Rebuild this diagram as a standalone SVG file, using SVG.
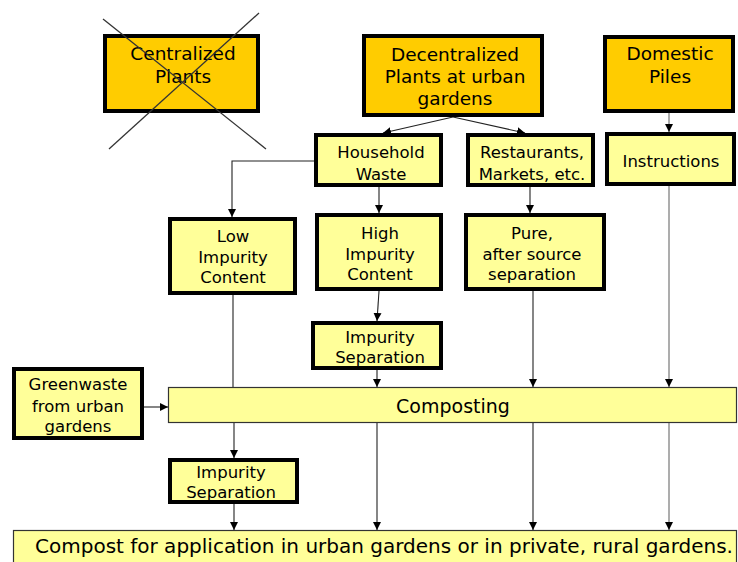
<svg xmlns="http://www.w3.org/2000/svg" width="738" height="562" viewBox="0 0 738 562">
  <defs>
    <marker id="arr" viewBox="0 0 8 8" refX="8" refY="4" markerWidth="8" markerHeight="8" markerUnits="userSpaceOnUse" orient="auto">
      <path d="M0,0 L8,4 L0,8 Z" fill="#000"/>
    </marker>
  </defs>
  <style>
    text { font-family: "Comic Sans MS", "DejaVu Sans", sans-serif; fill: #000; text-anchor: middle; }
    .main { fill: #FFCC00; stroke: #000; stroke-width: 4; }
    .sub { fill: #FFFF99; stroke: #000; stroke-width: 4; }
    .bar { fill: #FFFF99; stroke: #333; stroke-width: 1.2; }
    .t17 { font-size: 18.5px; }
    .t15 { font-size: 16.5px; }
    .c { fill: none; stroke: #222; stroke-width: 1.1; }
    .g { fill: none; stroke: #999; stroke-width: 1.6; }
    .x { stroke: #333; stroke-width: 1.3; }
  </style>

  <!-- connectors -->
  <g id="connectors">
    <line class="c" x1="453" y1="117" x2="383" y2="133" marker-end="url(#arr)"/>
    <line class="c" x1="453" y1="117" x2="525" y2="133" marker-end="url(#arr)"/>
    <line class="g" x1="669" y1="113" x2="669" y2="132" marker-end="url(#arr)"/>
    <polyline class="c" points="314,161 232,161 232,217" marker-end="url(#arr)"/>
    <line class="c" x1="379" y1="187" x2="379" y2="213" marker-end="url(#arr)"/>
    <line class="c" x1="530" y1="187" x2="530" y2="213" marker-end="url(#arr)"/>
    <line class="c" x1="379" y1="291" x2="377" y2="321" marker-end="url(#arr)"/>
    <line class="c" x1="233" y1="295" x2="233" y2="387"/>
    <line class="c" x1="377" y1="370" x2="377" y2="387" marker-end="url(#arr)"/>
    <line class="c" x1="533" y1="291" x2="533" y2="387" marker-end="url(#arr)"/>
    <line class="g" x1="669" y1="186" x2="669" y2="387" marker-end="url(#arr)"/>
    <line class="c" x1="144" y1="407" x2="168" y2="407" marker-end="url(#arr)"/>
    <line class="c" x1="234" y1="423" x2="234" y2="458" marker-end="url(#arr)"/>
    <line class="c" x1="234" y1="504" x2="234" y2="530" marker-end="url(#arr)"/>
    <line class="c" x1="377" y1="423" x2="377" y2="530" marker-end="url(#arr)"/>
    <line class="c" x1="533" y1="423" x2="533" y2="530" marker-end="url(#arr)"/>
    <line class="g" x1="669" y1="423" x2="669" y2="530" marker-end="url(#arr)"/>
  </g>

  <g id="centralized">
    <rect class="main" x="105" y="36" width="153" height="75"/>
    <text class="t17" x="183" y="60">Centralized</text>
    <text class="t17" x="183" y="83">Plants</text>
    <line class="x" x1="103" y1="19" x2="266" y2="149"/>
    <line class="x" x1="259" y1="13" x2="109" y2="149"/>
  </g>

  <g id="decentralized">
    <rect class="main" x="364" y="36" width="178" height="79"/>
    <text class="t17" x="455" y="61">Decentralized</text>
    <text class="t17" x="455" y="83">Plants at urban</text>
    <text class="t17" x="455" y="105">gardens</text>
  </g>

  <g id="domestic">
    <rect class="main" x="605" y="37" width="128" height="74"/>
    <text class="t17" x="670" y="60">Domestic</text>
    <text class="t17" x="670" y="83">Piles</text>
  </g>

  <g id="household">
    <rect class="sub" x="316" y="135" width="125" height="50"/>
    <text class="t15" x="381" y="158">Household</text>
    <text class="t15" x="381" y="180">Waste</text>
  </g>

  <g id="restaurants">
    <rect class="sub" x="468" y="135" width="125" height="50"/>
    <text class="t15" x="532" y="158">Restaurants,</text>
    <text class="t15" x="532" y="180">Markets, etc.</text>
  </g>

  <g id="instructions">
    <rect class="sub" x="607" y="134" width="127" height="50"/>
    <text class="t15" x="671" y="167">Instructions</text>
  </g>

  <g id="low-impurity">
    <rect class="sub" x="170" y="219" width="125" height="74"/>
    <text class="t15" x="233" y="242">Low</text>
    <text class="t15" x="233" y="263">Impurity</text>
    <text class="t15" x="233" y="283">Content</text>
  </g>

  <g id="high-impurity">
    <rect class="sub" x="317" y="215" width="124" height="74"/>
    <text class="t15" x="380" y="239">High</text>
    <text class="t15" x="380" y="260">Impurity</text>
    <text class="t15" x="380" y="280">Content</text>
  </g>

  <g id="pure">
    <rect class="sub" x="466" y="215" width="138" height="74"/>
    <text class="t15" x="532" y="239">Pure,</text>
    <text class="t15" x="532" y="260">after source</text>
    <text class="t15" x="532" y="280">separation</text>
  </g>

  <g id="impurity-separation-1">
    <rect class="sub" x="313" y="323" width="128" height="45"/>
    <text class="t15" x="380" y="343">Impurity</text>
    <text class="t15" x="380" y="363">Separation</text>
  </g>

  <g id="greenwaste">
    <rect class="sub" x="14" y="369" width="128" height="69"/>
    <text class="t15" x="78" y="390">Greenwaste</text>
    <text class="t15" x="78" y="412">from urban</text>
    <text class="t15" x="78" y="432">gardens</text>
  </g>

  <g id="composting">
    <rect class="bar" x="168.5" y="387.5" width="568" height="35"/>
    <text x="453" y="413" style="font-size:19px">Composting</text>
  </g>

  <g id="impurity-separation-2">
    <rect class="sub" x="170" y="460" width="127" height="42"/>
    <text class="t15" x="231" y="478">Impurity</text>
    <text class="t15" x="231" y="498">Separation</text>
  </g>

  <g id="compost">
    <rect class="bar" x="13.5" y="530.5" width="723" height="40"/>
    <text x="384" y="553" style="font-size:20px">Compost for application in urban gardens or in private, rural gardens.</text>
  </g>
</svg>
